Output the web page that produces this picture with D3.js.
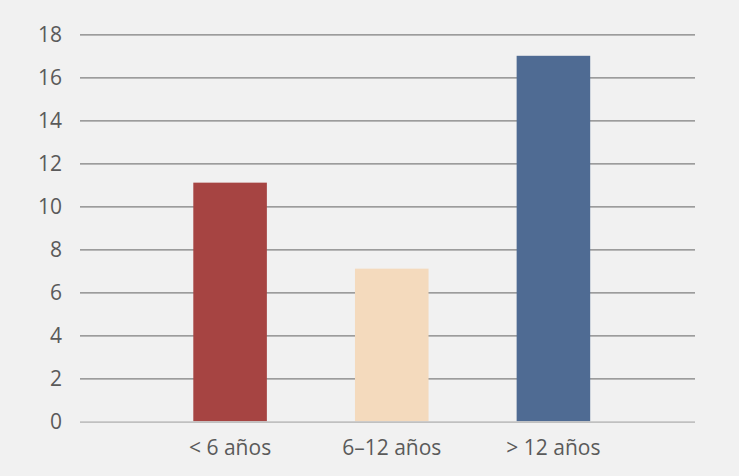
<!DOCTYPE html>
<html><head><meta charset="utf-8">
<script src="https://cdn.jsdelivr.net/npm/d3@7"></script>
<style>
html,body{margin:0;padding:0;background:#f1f1f1;}
svg{display:block;}
text{font-family:"Open Sans","Noto Sans",sans-serif;fill:#5a5a5a;}
</style></head>
<body>
<svg id="chart" width="739" height="476"></svg>
<script>
const categories = ["< 6 años", "6–12 años", "> 12 años"];
const values = [11.1, 7.1, 17];
const colors = ["#a64442", "#f4dabd", "#4f6b93"];
const yTicks = [0, 2, 4, 6, 8, 10, 12, 14, 16, 18];

(function () {
const svg = d3.select("#chart");
const W = 739, H = 476;
svg.append("rect").attr("width", W).attr("height", H).attr("fill", "#f1f1f1");

const mLeft = 80, mRight = 695, mTop = 34.3, mBottom = 421.3;
const y = d3.scaleLinear().domain([0, 18]).range([mBottom, mTop]);
const x = d3.scaleBand().domain(categories).range([149.25, 634.25]).paddingInner(0.545).paddingOuter(0.2725);
const font = '"Open Sans","Noto Sans",sans-serif';

// gridlines
const yAxis = d3.axisLeft(y).tickValues(yTicks).tickSize(-(mRight - mLeft)).tickPadding(18).tickFormat(d3.format("d"));
const gy = svg.append("g").attr("transform", `translate(${mLeft},0)`).call(yAxis);
gy.select(".domain").remove();
gy.selectAll(".tick line").attr("stroke", "#7f7f7f").attr("stroke-width", 1.2)
  .attr("display", d => d === 0 ? "none" : null);
gy.selectAll(".tick text").attr("font-size", 21).attr("fill", "#5a5a5a").attr("dy", "0.35em")
  .style("font-family", font);

// bars
svg.append("g").selectAll("rect").data(categories).join("rect")
  .attr("x", d => x(d))
  .attr("width", x.bandwidth())
  .attr("y", (d, i) => y(values[i]))
  .attr("height", (d, i) => y(0) - y(values[i]))
  .attr("fill", (d, i) => colors[i]);

// baseline
svg.append("line").attr("x1", mLeft).attr("x2", mRight).attr("y1", y(0) + 0.8).attr("y2", y(0) + 0.8)
  .attr("stroke", "#c0c0c0").attr("stroke-width", 1.6);

// x labels
const xAxis = d3.axisBottom(x).tickSize(0).tickPadding(19);
const gx = svg.append("g").attr("transform", `translate(0,${mBottom})`).call(xAxis);
gx.select(".domain").remove();
gx.selectAll(".tick text").attr("font-size", 21).attr("fill", "#5a5a5a")
  .style("font-family", font);
})();
</script>
</body></html>
